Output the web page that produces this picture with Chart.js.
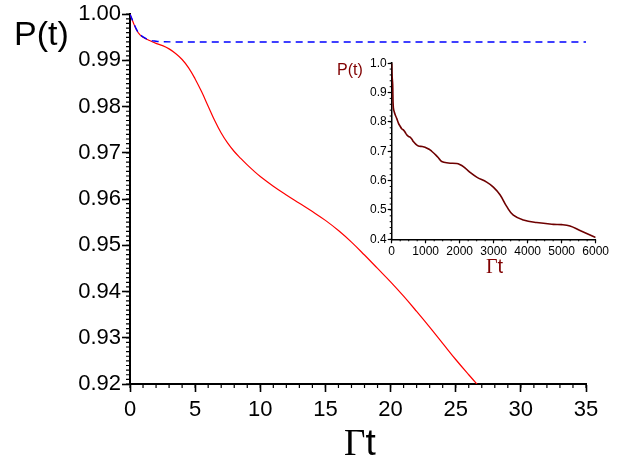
<!DOCTYPE html>
<html>
<head>
<meta charset="utf-8">
<script src="https://cdn.jsdelivr.net/npm/chart.js@4.4.1/dist/chart.umd.min.js"></script>
<style>
  html, body { margin: 0; padding: 0; background: #fff; }
  #wrap { position: relative; width: 636px; height: 456px; overflow: hidden; }
  #main { position: absolute; left: 0; top: 0; }
  #inset { position: absolute; left: 340px; top: 55px; }
  .lbl { position: absolute; white-space: nowrap; line-height: 1; }
  .sans { font-family: 'Liberation Sans', Arial, sans-serif; }
  .serif { font-family: 'Liberation Serif', 'Times New Roman', serif; }
</style>
</head>
<body>
<div id="wrap">
  <canvas id="main" width="636" height="456"></canvas>
  <canvas id="inset" width="270" height="210"></canvas>
  <div class="lbl sans" style="left:14px; top:16px; font-size:34px; color:#000;">P(t)</div>
  <div class="lbl" style="left:344px; top:424px; font-size:37px; color:#000;"><span class="serif">&Gamma;</span><span class="sans">t</span></div>
  <div class="lbl sans" style="left:337px; top:62px; font-size:16px; color:#800000;">P(t)</div>
  <div class="lbl" style="left:486px; top:256px; font-size:20px; color:#800000;"><span class="serif">&Gamma;</span><span class="sans">t</span></div>
</div>
<script>
// main panel: exact dynamics (red) and short-time approximation (blue dashed)
const mainT = [0, 0.25, 0.5, 0.75, 1.0, 1.5, 2.0, 2.5, 3.0, 3.5, 4.0, 4.5, 5.0, 5.5, 6.0, 6.5, 7.0, 7.5, 8.0, 8.5, 9.0, 9.5, 10, 11, 12, 13, 14, 15, 16, 17, 18, 19, 20, 21, 22, 23, 24, 25, 26, 27];
const mainP = [1.0, 0.9982, 0.9966, 0.9956, 0.9950, 0.9943, 0.9937, 0.9932, 0.9925, 0.9915, 0.9902, 0.9884, 0.9860, 0.9832, 0.9801, 0.9770, 0.9743, 0.9721, 0.9703, 0.9688, 0.9674, 0.9661, 0.9649, 0.9628, 0.9609, 0.9591, 0.9573, 0.9554, 0.9532, 0.9507, 0.9479, 0.9450, 0.9421, 0.9390, 0.9357, 0.9323, 0.9288, 0.9253, 0.9220, 0.9188];

const approxT = [0, 0.25, 0.5, 0.75, 1.0, 1.5, 2.0, 2.5, 3.5, 35];
const approxP = [1.0, 0.9983, 0.9967, 0.9957, 0.9951, 0.9944, 0.99415, 0.99405, 0.9940, 0.9940];

// inset: long-time dynamics
const insetT = [0, 10, 29, 49, 100, 147, 200, 245, 300, 343, 400, 441, 500, 539, 600, 637, 700, 784, 900, 980, 1100, 1176, 1300, 1373, 1471, 1667, 1912, 2000, 2108, 2304, 2500, 2794, 2990, 3186, 3382, 3578, 3873, 4265, 4755, 5000, 5245, 5539, 6000];
const insetP = [1.0, 0.96, 0.927, 0.848, 0.825, 0.812, 0.795, 0.786, 0.776, 0.773, 0.764, 0.756, 0.750, 0.748, 0.740, 0.733, 0.725, 0.718, 0.716, 0.714, 0.707, 0.700, 0.687, 0.678, 0.665, 0.660, 0.658, 0.655, 0.648, 0.628, 0.612, 0.595, 0.578, 0.552, 0.512, 0.482, 0.466, 0.457, 0.451, 0.450, 0.445, 0.430, 0.406];

function toPoints(xs, ys) {
  return xs.map((x, i) => ({ x, y: ys[i] }));
}

// small outward ticks between the labelled ones
const minorTicks = {
  id: 'minorTicks',
  afterDraw(chart, args, opts) {
    const ctx = chart.ctx;
    const area = chart.chartArea;
    ctx.save();
    ctx.strokeStyle = '#000';
    ctx.lineWidth = opts.width;
    ctx.beginPath();
    ['x', 'y'].forEach((id) => {
      const scale = chart.scales[id];
      const step = opts[id];
      const n = Math.round((scale.max - scale.min) / step);
      for (let i = 0; i <= n; i++) {
        const p = scale.getPixelForValue(scale.min + i * step);
        if (id === 'x') {
          ctx.moveTo(p, area.bottom);
          ctx.lineTo(p, area.bottom + opts.len);
        } else {
          ctx.moveTo(area.left, p);
          ctx.lineTo(area.left - opts.len, p);
        }
      }
    });
    ctx.stroke();
    ctx.restore();
  }
};

function axis(opts) {
  return {
    type: 'linear',
    min: opts.min,
    max: opts.max,
    afterFit: opts.fit,
    border: { display: true, color: '#000', width: opts.border },
    grid: {
      display: true,
      drawOnChartArea: false,
      drawTicks: true,
      tickLength: opts.tick,
      tickColor: '#000',
      tickWidth: opts.border * 0.8
    },
    ticks: {
      stepSize: opts.step,
      color: '#000',
      padding: opts.pad,
      maxRotation: 0,
      autoSkip: false,
      font: { family: "'Liberation Sans', Arial, sans-serif", size: opts.font },
      callback: opts.label
    }
  };
}

new Chart(document.getElementById('main'), {
  type: 'line',
  data: {
    datasets: [
      {
        data: toPoints(approxT, approxP),
        borderColor: '#0000ff',
        borderWidth: 1.4,
        borderDash: [7, 5],
        pointRadius: 0,
        tension: 0.4
      },
      {
        data: toPoints(mainT, mainP),
        borderColor: '#ff0000',
        borderWidth: 1.2,
        pointRadius: 0,
        tension: 0.4
      }
    ]
  },
  options: {
    responsive: false,
    animation: false,
    layout: { padding: { top: 13, right: 50, left: 0, bottom: 0 } },
    plugins: {
      legend: { display: false },
      tooltip: { enabled: false },
      minorTicks: { x: 1, y: 0.001, len: 4, width: 1.2 }
    },
    scales: {
      x: axis({
        min: 0, max: 35, step: 5, tick: 8, pad: 5, font: 22, border: 2,
        fit: (s) => { s.height = 72; },
        label: (v) => v
      }),
      y: axis({
        min: 0.92, max: 1.0, step: 0.01, tick: 8, pad: 1, font: 22, border: 2,
        fit: (s) => { s.width = 130; },
        label: (v) => v.toFixed(2)
      })
    }
  },
  plugins: [minorTicks]
});

new Chart(document.getElementById('inset'), {
  type: 'line',
  data: {
    datasets: [
      {
        data: toPoints(insetT, insetP),
        borderColor: '#6e0000',
        borderWidth: 1.6,
        pointRadius: 0,
        tension: 0.4
      }
    ]
  },
  options: {
    responsive: false,
    animation: false,
    layout: { padding: { top: 6.7, right: 14.3, left: 0, bottom: 0 } },
    plugins: {
      legend: { display: false },
      tooltip: { enabled: false },
      minorTicks: { x: 250, y: 0.02, len: 2, width: 1 }
    },
    scales: {
      x: axis({
        min: 0, max: 6000, step: 1000, tick: 4, pad: 1, font: 12, border: 1.5,
        fit: (s) => { s.height = 25.7; },
        label: (v) => v
      }),
      y: axis({
        min: 0.4, max: 1.0, step: 0.1, tick: 4, pad: 1, font: 12, border: 1.5,
        fit: (s) => { s.width = 51.7; },
        label: (v) => v.toFixed(1)
      })
    }
  },
  plugins: [minorTicks]
});
</script>
</body>
</html>
